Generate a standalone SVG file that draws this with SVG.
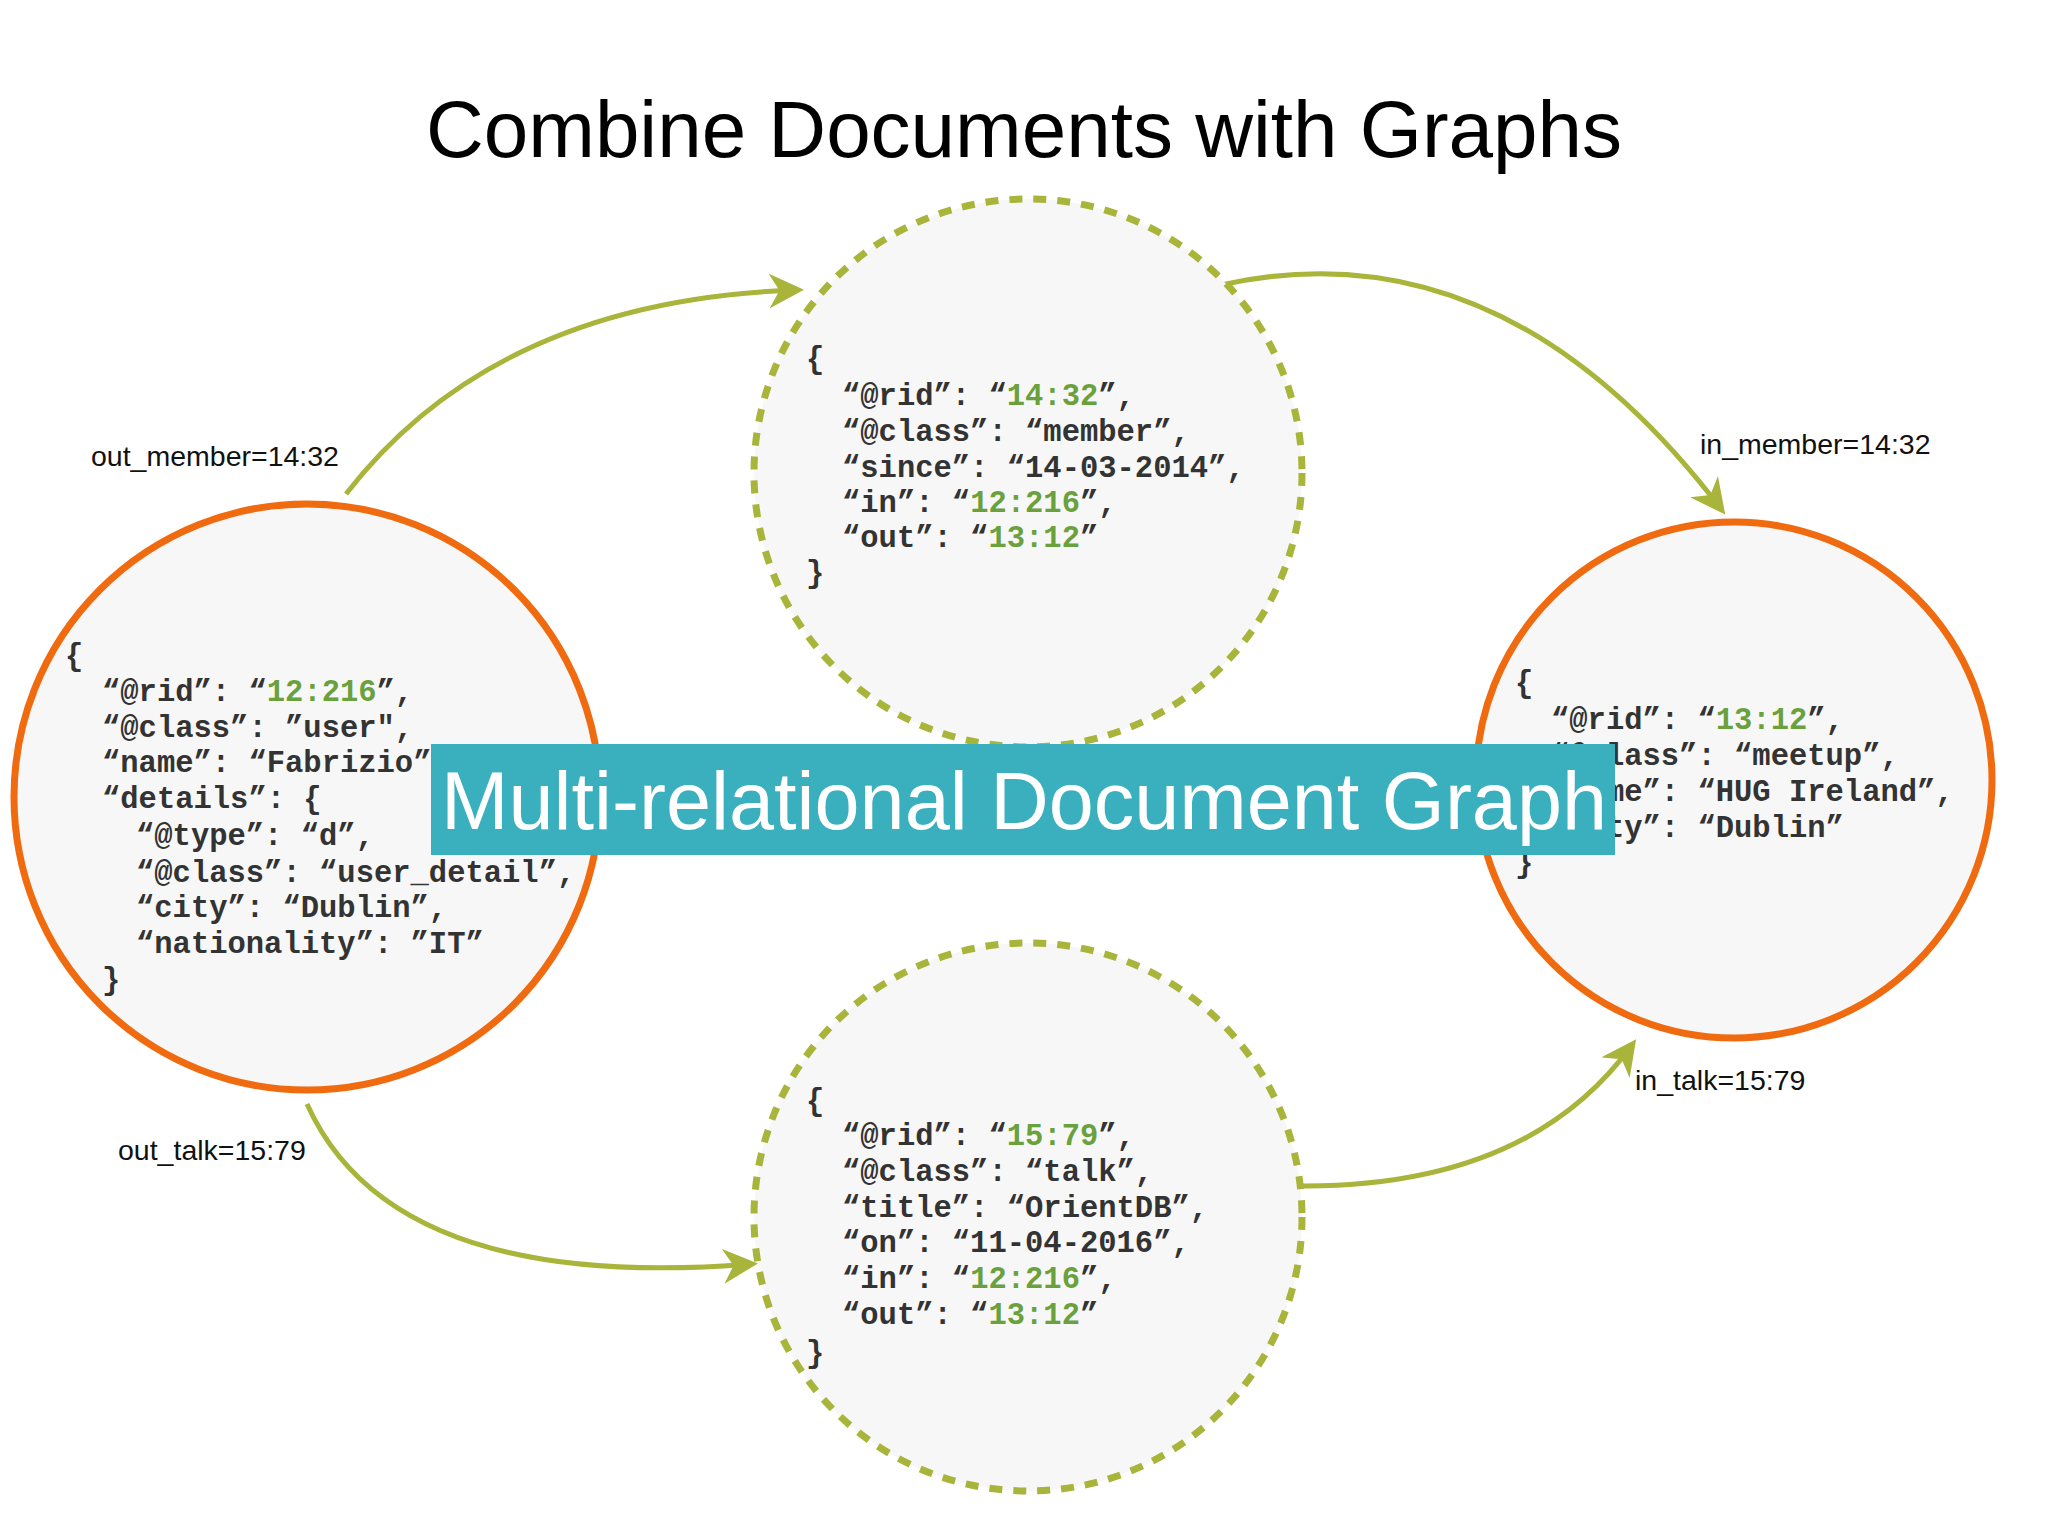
<svg xmlns="http://www.w3.org/2000/svg" width="2048" height="1536" viewBox="0 0 2048 1536">
<style>
.code{font-family:"Liberation Mono","Courier New",monospace;font-weight:bold;font-size:30.5px;fill:#333}
.g{fill:#6aa13c}
.lbl{font-family:"Liberation Sans",Arial,sans-serif;font-size:28.5px;fill:#111}
.dash{fill:#f7f7f7;stroke:#a8b43a;stroke-width:7;stroke-dasharray:13 11}
.solid{fill:#f7f7f7;stroke:#f06a10;stroke-width:7}
.edge{fill:none;stroke:#a8b43a;stroke-width:5;marker-end:url(#ah)}
</style>
<defs>
<marker id="ah" viewBox="0 0 10 10" refX="8" refY="5" markerWidth="7" markerHeight="7" orient="auto" markerUnits="strokeWidth">
<path d="M0,0 L10,5 L0,10 L3,5 Z" fill="#a8b43a"/>
</marker>
</defs>
<rect width="2048" height="1536" fill="#fff"/>
<text x="1024" y="157" text-anchor="middle" font-family="Liberation Sans,Arial,sans-serif" font-size="80" fill="#000">Combine Documents with Graphs</text>
<g id="connectors">
<path class="edge" d="M346,494 Q496,300 797,290"/>
<path class="edge" d="M1221,285 Q1502,222 1721,509"/>
<path class="edge" d="M307,1104 Q392,1293 751,1264"/>
<path class="edge" d="M1299,1186 Q1528,1188 1632,1045"/>
<text class="lbl" x="91" y="466">out_member=14:32</text>
<text class="lbl" x="1700" y="454">in_member=14:32</text>
<text class="lbl" x="118" y="1160">out_talk=15:79</text>
<text class="lbl" x="1635" y="1090">in_talk=15:79</text>
</g>
<g id="member">
<circle class="dash" cx="1028" cy="473" r="274"/>
<text class="code" x="806" y="368">{</text>
<text class="code" x="842" y="405">“@rid”: “<tspan class="g">14:32</tspan>”,</text>
<text class="code" x="842" y="441">“@class”: “member”,</text>
<text class="code" x="842" y="477">“since”: “14-03-2014”,</text>
<text class="code" x="842" y="512">“in”: “<tspan class="g">12:216</tspan>”,</text>
<text class="code" x="842" y="547">“out”: “<tspan class="g">13:12</tspan>”</text>
<text class="code" x="806" y="582">}</text>
</g>
<g id="talk">
<circle class="dash" cx="1028" cy="1217" r="274"/>
<text class="code" x="806" y="1110">{</text>
<text class="code" x="842" y="1145">“@rid”: “<tspan class="g">15:79</tspan>”,</text>
<text class="code" x="842" y="1181">“@class”: “talk”,</text>
<text class="code" x="842" y="1217">“title”: “OrientDB”,</text>
<text class="code" x="842" y="1252">“on”: “11-04-2016”,</text>
<text class="code" x="842" y="1288">“in”: “<tspan class="g">12:216</tspan>”,</text>
<text class="code" x="842" y="1324">“out”: “<tspan class="g">13:12</tspan>”</text>
<text class="code" x="806" y="1362">}</text>
</g>
<g id="user">
<circle class="solid" cx="307" cy="797" r="293"/>
<text class="code" x="65" y="665">{</text>
<text class="code" x="102" y="701">“@rid”: “<tspan class="g">12:216</tspan>”,</text>
<text class="code" x="102" y="737">“@class”: ”user",</text>
<text class="code" x="102" y="772">“name”: “Fabrizio”,</text>
<text class="code" x="102" y="808">“details”: {</text>
<text class="code" x="136" y="845">“@type”: “d”,</text>
<text class="code" x="136" y="882">“@class”: “user_detail”,</text>
<text class="code" x="136" y="917">“city”: “Dublin”,</text>
<text class="code" x="136" y="953">“nationality”: ”IT”</text>
<text class="code" x="102" y="989">}</text>
</g>
<g id="meetup">
<circle class="solid" cx="1734" cy="780" r="258"/>
<text class="code" x="1515" y="692">{</text>
<text class="code" x="1551" y="729">“@rid”: “<tspan class="g">13:12</tspan>”,</text>
<text class="code" x="1551" y="765">“@class”: “meetup”,</text>
<text class="code" x="1551" y="801">“name”: “HUG Ireland”,</text>
<text class="code" x="1551" y="837">“city”: “Dublin”</text>
<text class="code" x="1515" y="872">}</text>
</g>
<g id="banner">
<rect x="431" y="744" width="1184" height="111" fill="#3aafbd"/>
<text x="441" y="829" font-family="Liberation Sans,Arial,sans-serif" font-size="81" fill="#fff">Multi-relational Document Graph</text>
</g>
</svg>
